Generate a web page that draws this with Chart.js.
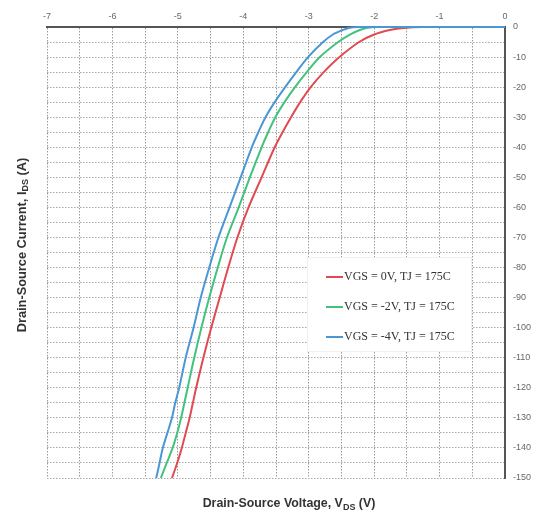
<!DOCTYPE html>
<html>
<head>
<meta charset="utf-8">
<script src="https://cdn.jsdelivr.net/npm/chart.js@4.4.1/dist/chart.umd.min.js"></script>
<style>
  html, body { margin: 0; padding: 0; background: #fff; }
  #wrap { width: 541px; height: 514px; }
</style>
</head>
<body>
<div id="wrap"><canvas id="c" width="541" height="514"></canvas></div>
<script>
// ---- Data ----
const seriesLabels = ['VGS = 0V, TJ = 175C', 'VGS = -2V, TJ = 175C', 'VGS = -4V, TJ = 175C'];
const seriesColors = ['#e04a50', '#43c27e', '#4a97d6'];

const ids = [-150,-145,-140,-135,-130,-125,-120,-110,-100,-90,-80,-70,-60,-50,-40,-35,-30,-25,-20,-15,-10,-5,-2.5,-1,-0.3,0,0];

const vdsRed   = [-5.09,-5.01,-4.94,-4.88,-4.82,-4.77,-4.72,-4.61,-4.49,-4.36,-4.23,-4.09,-3.92,-3.72,-3.52,-3.40,-3.27,-3.13,-2.97,-2.77,-2.53,-2.23,-2.00,-1.76,-1.55,-1.25,0];
const vdsGreen = [-5.26,-5.17,-5.08,-5.01,-4.95,-4.90,-4.85,-4.75,-4.64,-4.52,-4.39,-4.25,-4.07,-3.90,-3.72,-3.62,-3.51,-3.37,-3.21,-3.03,-2.83,-2.55,-2.37,-2.22,-2.12,-1.95,0];
const vdsBlue  = [-5.33,-5.28,-5.23,-5.16,-5.09,-5.04,-4.98,-4.88,-4.76,-4.65,-4.52,-4.38,-4.21,-4.04,-3.87,-3.77,-3.66,-3.52,-3.36,-3.19,-3.01,-2.78,-2.63,-2.48,-2.39,-2.25,0];

const xTitle = ['Drain-Source Voltage, V', 'DS', ' (V)'];
const yTitle = ['Drain-Source Current, I', 'DS', ' (A)'];

function pts(xs, ys) { return xs.map((x, i) => ({ x: x, y: ys[i] })); }

const datasets = [
  { label: seriesLabels[0], data: pts(vdsRed, ids), borderColor: seriesColors[0], order: 3 },
  { label: seriesLabels[1], data: pts(vdsGreen, ids), borderColor: seriesColors[1], order: 2 },
  { label: seriesLabels[2], data: pts(vdsBlue, ids), borderColor: seriesColors[2], order: 1 }
].map(d => Object.assign(d, {
  showLine: true, pointRadius: 0, borderWidth: 2, tension: 0.3, fill: false, clip: 4,
  backgroundColor: d.borderColor
}));

function drawSubText(ctx, parts, cx, cy, size) {
  const main = 'bold ' + size + 'px "Liberation Sans", Arial, sans-serif';
  const sub = 'bold ' + Math.round(size * 0.7) + 'px "Liberation Sans", Arial, sans-serif';
  const widths = parts.map((p, i) => { ctx.font = (i === 1 ? sub : main); return ctx.measureText(p).width; });
  const total = widths.reduce((a, b) => a + b, 0);
  let x = cx - total / 2;
  ctx.textBaseline = 'middle';
  ctx.textAlign = 'left';
  parts.forEach((p, i) => {
    ctx.font = (i === 1 ? sub : main);
    ctx.fillText(p, x, cy + (i === 1 ? size * 0.3 : 0));
    x += widths[i];
  });
}

const titlesPlugin = {
  id: 'titles',
  afterDraw(chart) {
    const ctx = chart.ctx;
    ctx.save();
    ctx.fillStyle = '#333';
    drawSubText(ctx, xTitle, 289, 504, 12.4);
    ctx.translate(22, 245);
    ctx.rotate(-Math.PI / 2);
    drawSubText(ctx, yTitle, 0, 0, 12.8);
    ctx.restore();
  }
};

const legendPlugin = {
  id: 'boxLegend',
  beforeDatasetsDraw(chart) {
    const ctx = chart.ctx;
    const bx = 307, by = 257, bw = 165, bh = 95;
    ctx.save();
    ctx.fillStyle = '#fff';
    ctx.fillRect(bx, by, bw, bh);
    ctx.strokeStyle = '#f0f0f0';
    ctx.lineWidth = 1;
    ctx.strokeRect(bx + 0.5, by + 0.5, bw - 1, bh - 1);
    ctx.font = '12px "Liberation Serif", "Times New Roman", serif';
    ctx.textBaseline = 'middle';
    ctx.textAlign = 'left';
    chart.data.datasets.forEach((ds, i) => {
      const y = 277 + i * 30;
      ctx.strokeStyle = ds.borderColor;
      ctx.lineWidth = 2;
      ctx.beginPath();
      ctx.moveTo(326, y);
      ctx.lineTo(343, y);
      ctx.stroke();
      ctx.fillStyle = '#333';
      ctx.fillText(ds.label, 344, y);
    });
    ctx.restore();
  }
};

new Chart(document.getElementById('c'), {
  type: 'scatter',
  data: { datasets: datasets },
  options: {
    responsive: false,
    animation: false,
    devicePixelRatio: 1,
    layout: { padding: { left: 47, right: 0, top: 0, bottom: 36 } },
    plugins: { legend: { display: false }, tooltip: { enabled: false } },
    scales: {
      x: {
        type: 'linear',
        position: 'top',
        min: -7, max: 0,
        afterFit(s) { s.height = 27; },
        ticks: {
          stepSize: 0.5,
          padding: 5,
          color: '#666',
          font: { family: '"Liberation Sans", Arial, sans-serif', size: 9 },
          maxRotation: 0,
          autoSkip: false,
          callback: v => (Number.isInteger(v) ? String(v) : '')
        },
        grid: { color: '#9a9a9a', lineWidth: 1, drawTicks: false },
        border: { display: true, color: '#555', width: 2, dash: [1.5, 1.5] }
      },
      y: {
        type: 'linear',
        position: 'right',
        min: -150, max: 0,
        afterFit(s) { s.width = 36; },
        ticks: {
          stepSize: 5,
          padding: 8,
          color: '#666',
          font: { family: '"Liberation Sans", Arial, sans-serif', size: 9 },
          autoSkip: false,
          callback: v => (v % 10 === 0 ? String(v) : '')
        },
        grid: { color: '#a8a8a8', lineWidth: 1, drawTicks: false },
        border: { display: true, color: '#555', width: 2, dash: [1.5, 1.5] }
      }
    }
  },
  plugins: [legendPlugin, titlesPlugin]
});
</script>
</body>
</html>
